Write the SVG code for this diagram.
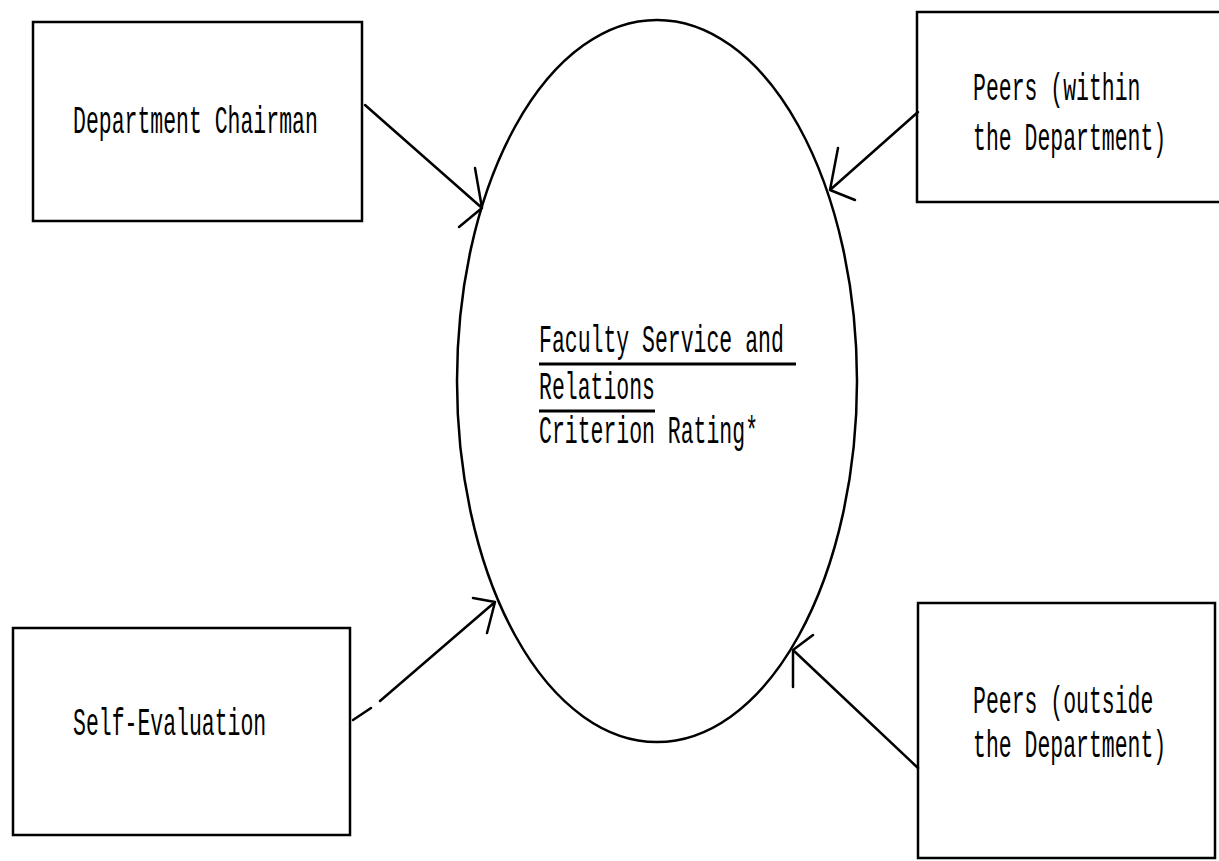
<svg xmlns="http://www.w3.org/2000/svg" width="1219" height="861" viewBox="0 0 1219 861">
  <style>
    .box { fill: #fff; stroke: #000; stroke-width: 2.5; }
    .oval { fill: none; stroke: #000; stroke-width: 2.5; }
    .lbl { font-family: "Liberation Mono", "DejaVu Sans Mono", monospace; font-size: 38px; fill: #000; }
    .wire { fill: none; stroke: #000; stroke-width: 2.5; stroke-linecap: round; stroke-linejoin: round; }
    .ul { stroke: #000; stroke-width: 3; }
  </style>
  <rect x="0" y="0" width="1219" height="861" fill="#fff"/>

  <!-- central rating oval; labels are narrow typewriter type (13px pitch) -->
  <g id="rating">
    <ellipse class="oval" cx="657" cy="381" rx="200" ry="361"/>
    <text class="lbl" transform="translate(539 352) scale(0.565 1)">Faculty Service and</text>
    <line class="ul" x1="539" y1="364" x2="796" y2="364"/>
    <text class="lbl" transform="translate(539 399) scale(0.565 1)">Relations</text>
    <line class="ul" x1="539" y1="411" x2="655" y2="411"/>
    <text class="lbl" transform="translate(539 443) scale(0.565 1)">Criterion Rating*</text>
  </g>

  <!-- source boxes -->
  <g id="chairman">
    <rect class="box" x="33" y="22" width="329" height="199"/>
    <text class="lbl" transform="translate(73 133) scale(0.565 1)">Department Chairman</text>
  </g>

  <g id="peers-within">
    <path class="box" d="M1219 12 L917 12 L917 202 L1219 202"/>
    <text class="lbl" transform="translate(973 100) scale(0.565 1)">Peers (within</text>
    <text class="lbl" transform="translate(973 150) scale(0.565 1)">the Department)</text>
  </g>

  <g id="self-evaluation">
    <rect class="box" x="13" y="628" width="337" height="207"/>
    <text class="lbl" transform="translate(73 735) scale(0.565 1)">Self-Evaluation</text>
  </g>

  <g id="peers-outside">
    <rect class="box" x="918" y="603" width="297" height="255"/>
    <text class="lbl" transform="translate(973 713) scale(0.565 1)">Peers (outside</text>
    <text class="lbl" transform="translate(973 757) scale(0.565 1)">the Department)</text>
  </g>

  <!-- hand-drawn arrows into the oval -->
  <g id="connectors">
    <path class="wire" d="M365 105 L482 208 M475 168 L482 208 L459 227"/>
    <path class="wire" d="M918 112 L830 190 M838 148 L830 190 L855 200"/>
    <path class="wire" d="M353 720 L371 708 M380 701 L495 602 M473 598 L495 602 L487 633"/>
    <path class="wire" d="M918 768 L793 650 M793 687 L793 650 L813 635"/>
  </g>
</svg>
